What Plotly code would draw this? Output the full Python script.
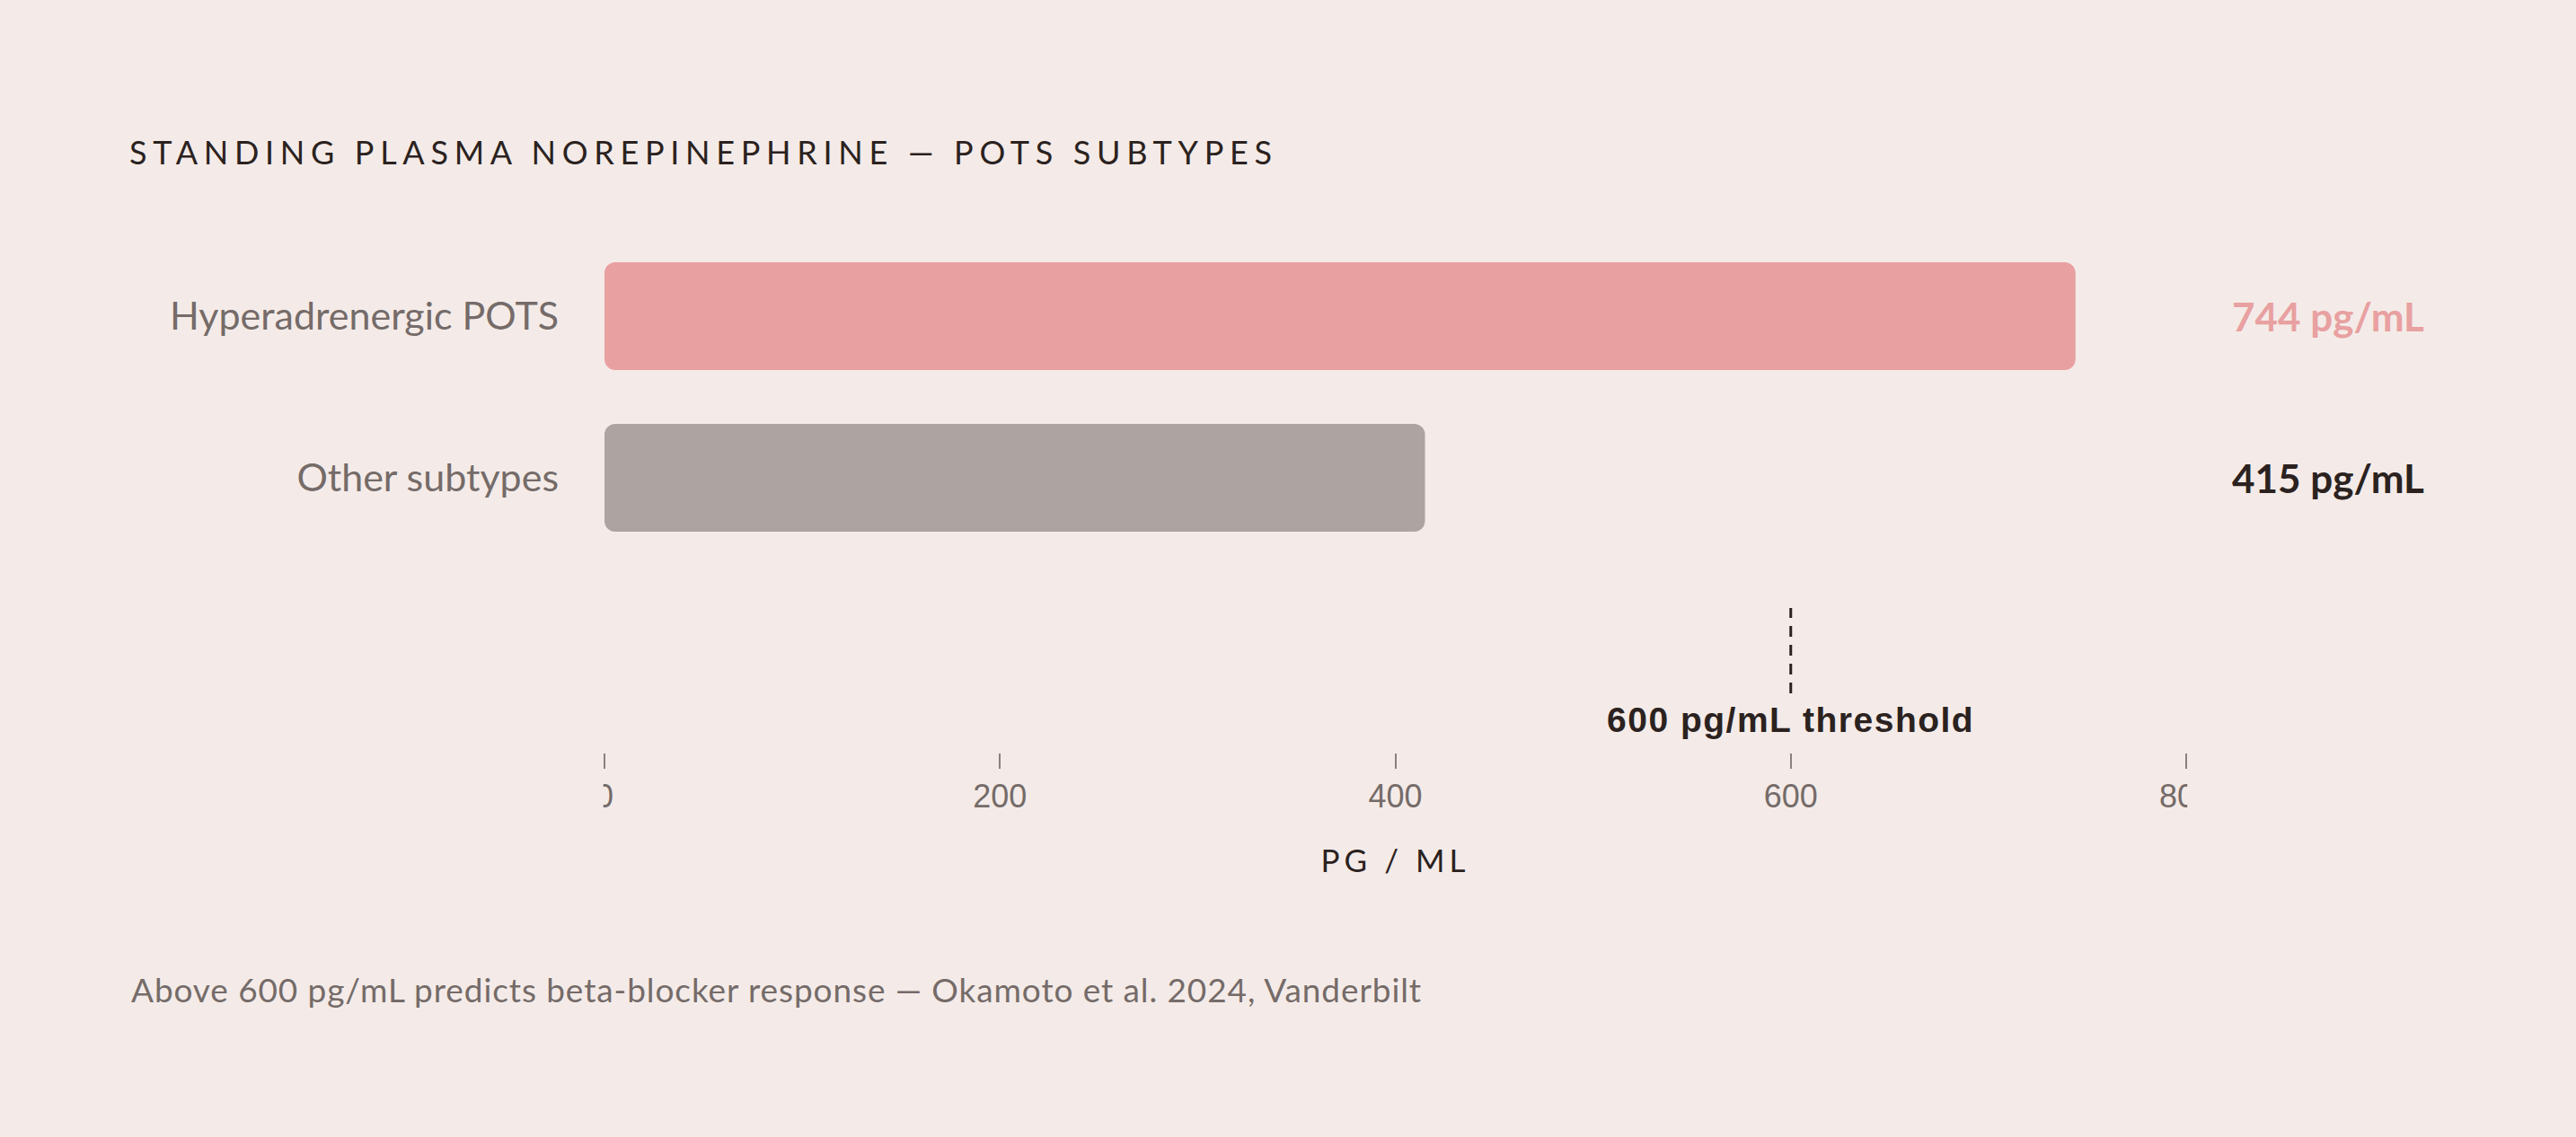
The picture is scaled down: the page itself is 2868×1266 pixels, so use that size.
import plotly.graph_objects as go

# chart data
subtypes = ["Hyperadrenergic POTS", "Other subtypes"]
norepinephrine = [744, 415]
bar_colors = ["#e8a0a0", "#ada4a1"]
label_colors = ["#e8a0a0", "#2b2220"]
threshold = 600
x_ticks = [0, 200, 400, 600, 800]

BG = "#f4ebe8"
DARK = "#2b2220"
GREY = "#756b69"

fig = go.Figure()

# each bar is drawn as two overlapping pieces so both ends get rounded corners:
# one growing right towards the value, one growing left towards zero
quarter = [v / 4 for v in norepinephrine]
three_q = [3 * v / 4 for v in norepinephrine]

fig.add_trace(go.Bar(
    x=three_q, base=quarter, y=subtypes,
    orientation="h",
    marker=dict(color=bar_colors, line=dict(width=0)),
    width=2 / 3,
    customdata=norepinephrine,
    hovertemplate="%{y}: %{customdata} pg/mL<extra></extra>",
))
fig.add_trace(go.Bar(
    x=[-t for t in three_q], base=three_q, y=subtypes,
    orientation="h",
    marker=dict(color=bar_colors, line=dict(width=0)),
    width=2 / 3,
    hoverinfo="skip",
))

# value labels to the right of the plot
for name, val, col in zip(subtypes, norepinephrine, label_colors):
    fig.add_annotation(
        x=1.1518, xref="paper", y=name, yref="y",
        text=f"<b>{val} pg/mL</b>", showarrow=False,
        xanchor="right", yanchor="middle",
        font=dict(family="Lato", size=44, color=col),
    )

# threshold marker
fig.add_shape(
    type="line", xref="x", yref="paper",
    x0=threshold, x1=threshold, y0=0.1146, y1=0.2795,
    line=dict(color=DARK, width=3, dash="12px,9px"),
)
fig.add_annotation(
    x=threshold, xref="x", y=0.0642, yref="paper",
    text=f"<b><span style='letter-spacing:1.5px'>{threshold} pg/mL threshold</span></b>",
    showarrow=False, xanchor="center", yanchor="middle",
    font=dict(family="Liberation Sans, Arial, sans-serif", size=39, color=DARK),
)

# end labels are cut at the plot edges in the original
for x0, x1 in [(-0.04, -0.0007), (1.0007, 1.04)]:
    fig.add_shape(
        type="rect", xref="paper", yref="paper", layer="above",
        x0=x0, x1=x1, y0=-0.125, y1=-0.04,
        fillcolor=BG, line=dict(width=0),
    )

fig.add_annotation(
    x=-0.3003, xref="paper", y=-0.4566, yref="paper",
    text="<span style='letter-spacing:0.9px'>Above 600 pg/mL predicts beta-blocker response — Okamoto et al. 2024, Vanderbilt</span>",
    showarrow=False, xanchor="left", yanchor="middle",
    font=dict(family="Lato", size=37, color=GREY),
)

fig.update_layout(
    width=2868,
    height=1266,
    paper_bgcolor=BG,
    plot_bgcolor=BG,
    margin=dict(l=673, r=433.5, t=262, b=428),
    showlegend=False,
    barmode="overlay",
    barcornerradius=12,
    title=dict(
        text="<span style='letter-spacing:6.7px'>STANDING PLASMA NOREPINEPHRINE — POTS SUBTYPES</span>",
        x=0.0502, xanchor="left", xref="container",
        y=1 - 170 / 1266, yanchor="middle", yref="container",
        font=dict(family="Lato", size=36, color=DARK),
    ),
)

fig.update_xaxes(
    range=[0, 800],
    tickvals=x_ticks,
    ticks="outside", ticklen=17, tickwidth=2, tickcolor="#8a807e",
    showgrid=False, zeroline=False, showline=False,
    tickfont=dict(family="Liberation Sans, Arial, sans-serif", size=36, color=GREY),
    title=dict(
        text="<span style='letter-spacing:5px'>PG / ML</span>",
        font=dict(family="Lato", size=35, color=DARK),
        standoff=40,
    ),
)

fig.update_yaxes(
    type="category",
    categoryorder="array", categoryarray=subtypes,
    range=[2.7, -0.5],
    ticks="", showgrid=False, zeroline=False, showline=False,
    ticklabelstandoff=50,
    tickfont=dict(family="Lato", size=43, color=GREY),
)

fig.write_html(
    "out.html",
    config={"displayModeBar": False},
    post_script="document.body.style.margin='0';",
)
